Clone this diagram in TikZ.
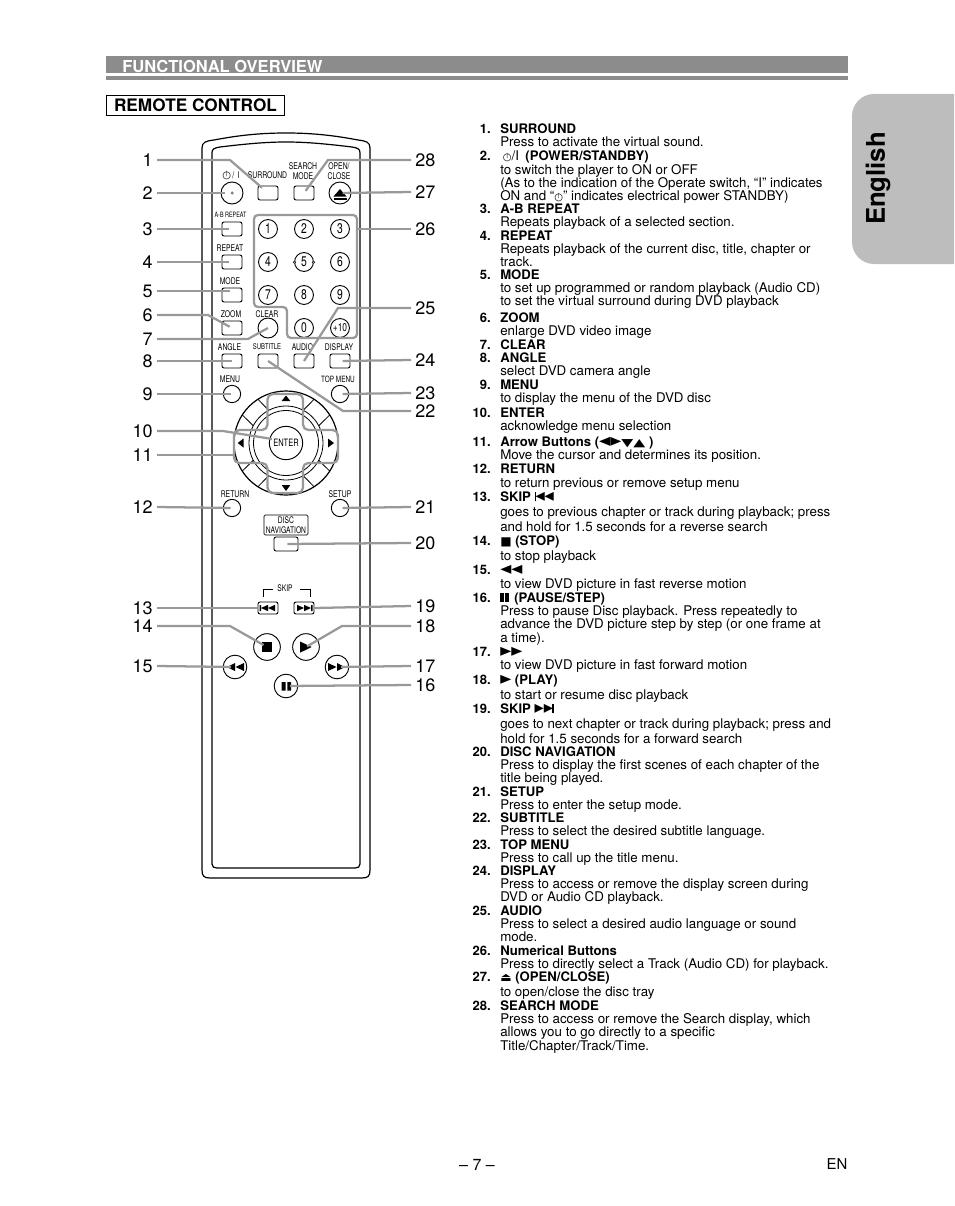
\documentclass[tikz,border=0pt]{standalone}
\usepackage{fontspec}
\usepackage{graphicx}
\setmainfont{TeX Gyre Heros}
\newfontfamily\symfont{DejaVu Sans}
\newfontfamily\narrowfont[FakeStretch=0.74]{TeX Gyre Heros}
\newcommand{\pwr}{{\symfont\fontsize{7.5}{7.5}\selectfont\smash{\makebox[6.5pt]{○}\llap{\makebox[6.5pt]{\raisebox{2.2pt}{\fontsize{4}{4}\selectfont|}}}}}}
\newcommand{\sym}[1]{\rule{0pt}{7pt}\smash{\scalebox{1.2}[1.5]{\symfont\fontsize{9}{9}\selectfont #1}}}
\newcommand{\symp}[1]{\smash{{\symfont\fontsize{9}{9}\selectfont #1}}}
\newcommand{\hd}[1]{\rule{0pt}{7pt}\smash{\fontsize{9.85}{10}\selectfont\bfseries #1}}
\tikzset{
    rectkey/.style = {draw, rounded corners = 1.5pt, minimum width = 15pt, minimum height = 10.5pt, inner sep = 0pt, line width = 0.7pt},
    roundkey/.style = {draw, circle, minimum size = #1, inner sep = 0pt, line width = 0.7pt},
    numkey/.style = {roundkey = 14.2pt, font = \narrowfont\fontsize{10.5}{10.5}\selectfont},
    keylabel/.style = {inner sep = 0pt, align = center, font = \narrowfont\fontsize{6.9}{7.4}\selectfont},
    callleft/.style = {anchor = east, inner sep = 3pt, font = \fontsize{13.5}{13.5}\selectfont},
    callright/.style = {anchor = west, inner sep = 3pt, font = \fontsize{13.5}{13.5}\selectfont},
    leader/.style = {draw = black!40, line width = 1.7pt},
    itemno/.style = {anchor = north east, inner sep = 0pt, text height = 7pt, text depth = 0pt, font = \fontsize{9.75}{10}\selectfont\bfseries},
    itemtext/.style = {anchor = north west, inner sep = 0pt, align = left, font = \fontsize{10}{10}\selectfont}
}
\begin{document}
\begin{tikzpicture}[x = 0.75pt, y = -0.75pt]
\useasboundingbox (0,0) rectangle (954,1206);
% page furniture
\fill[black!45] (106,56) rectangle (848,73.5);
\fill[black!45] (106,75.7) rectangle (848,80);
\node[anchor = west, inner sep = 0pt, text = white, font = \fontsize{12.4}{12.4}\selectfont\bfseries] (heading) at (122,66) {FUNCTIONAL OVERVIEW};
\node[draw, line width = 0.7pt, minimum width = 134pt, minimum height = 15pt, inner sep = 0pt, font = \fontsize{12.9}{12.9}\selectfont\bfseries] (remotetitle) at (195.5,105) {REMOTE CONTROL};
\fill[black!26] (954,94) -- (874,94) arc[start angle = -90, end angle = -180, radius = 22] -- (852,242) arc[start angle = 180, end angle = 90, radius = 22] -- (954,264) -- cycle;
\node[rotate = 90, inner sep = 0pt, font = \fontsize{19.3}{19.3}\selectfont\bfseries] (tabtext) at (878,178.5) {English};
\node[inner sep = 0pt, font = \fontsize{12}{12}\selectfont] (pageno) at (477,1165) {-- 7 --};
\node[inner sep = 0pt, font = \fontsize{11.2}{11.2}\selectfont] (lang) at (837,1164) {EN};
% remote body
\draw[line width = 0.9pt] (202,148) .. controls (202,142) and (206,141) .. (214,140) .. controls (240,135) and (262,133) .. (286,133) .. controls (310,133) and (332,135) .. (358,140) .. controls (366,141) and (370,142) .. (370,148) -- (370,870) .. controls (370,876) and (368,878) .. (362,878) -- (210,878) .. controls (204,878) and (202,876) .. (202,870) -- cycle;
\draw[line width = 0.9pt] (212,153) .. controls (212,149) and (214,148) .. (220,147) .. controls (245,144) and (265,142) .. (286,142) .. controls (307,142) and (327,144) .. (352,147) .. controls (358,148) and (360,149) .. (360,153) -- (360,864) .. controls (360,867) and (358,868) .. (355,868) -- (217,868) .. controls (214,868) and (212,867) .. (212,864) -- cycle;
% keys, top rows
\node[roundkey = 16.5pt] (power) at (232,193) {};
\node[rectkey] (surround) at (268,193) {};
\node[rectkey] (searchmode) at (304,193) {};
\node[roundkey = 16.5pt] (openclose) at (340,193) {};
\node[rectkey] (abrepeat) at (232,229) {};
\node[rectkey] (repeatkey) at (232,262) {};
\node[rectkey] (modekey) at (232,295) {};
\node[rectkey] (zoomkey) at (232,328) {};
\node[roundkey = 15pt] (clearkey) at (268,328) {};
\node[rectkey] (anglekey) at (232,361) {};
\node[rectkey] (subtitlekey) at (268,361) {};
\node[rectkey] (audiokey) at (304,361) {};
\node[rectkey] (displaykey) at (340,361) {};
\node[roundkey = 13pt] (menukey) at (232,394) {};
\node[roundkey = 13pt] (topmenukey) at (340,394) {};
% numeric keys
\node[numkey] (k1) at (268,229) {1};
\node[numkey] (k2) at (304,229) {2};
\node[numkey] (k3) at (340,229) {3};
\node[numkey] (k4) at (268,262) {4};
\node[numkey] (k5) at (304,262) {5};
\node[numkey] (k6) at (340,262) {6};
\node[numkey] (k7) at (268,295) {7};
\node[numkey] (k8) at (304,295) {8};
\node[numkey] (k9) at (340,295) {9};
\node[numkey] (k0) at (304,328) {0};
\node[roundkey = 14.2pt, font = \narrowfont\fontsize{8.5}{8.5}\selectfont] (k10) at (340,328) {+10};
\fill[white] (294.5,262.3) circle (1.6) (313.5,262.3) circle (1.6);
\draw[line width = 0.4pt] (294.5,262.3) circle (1.2) (313.5,262.3) circle (1.2);
% arrow pad
\draw[line width = 0.9pt] (286,443) circle (52);
\draw[line width = 0.6pt] (286,443) circle (37);
\draw[line width = 0.6pt] (286,443) circle (32.5);
\node[roundkey = 25pt, font = \narrowfont\fontsize{7.6}{7.6}\selectfont] (enterkey) at (286,443) {ENTER};
\draw[line width = 0.6pt] (268.8,410.3) -- (257.9,399.3) (253.3,425.8) -- (242.3,414.9);
\draw[line width = 0.6pt] (303.2,410.3) -- (314.1,399.3) (318.7,425.8) -- (329.7,414.9);
\draw[line width = 0.6pt] (268.8,475.7) -- (257.9,486.7) (253.3,460.2) -- (242.3,471.1);
\draw[line width = 0.6pt] (303.2,475.7) -- (314.1,486.7) (318.7,460.2) -- (329.7,471.1);
\fill (281.7,401) -- (290.3,401) -- (286,395.5) -- cycle;
\fill (281.7,485) -- (290.3,485) -- (286,491) -- cycle;
\fill (243.5,438.5) -- (243.5,447.5) -- (237.7,443) -- cycle;
\fill (328,438.5) -- (328,447.5) -- (334,443) -- cycle;
% lower keys
\node[roundkey = 13pt] (returnkey) at (232,508) {};
\node[roundkey = 13pt] (setupkey) at (340,508) {};
\node[draw, rounded corners = 1pt, line width = 0.6pt, minimum width = 33pt, minimum height = 15pt, inner sep = 0pt, align = center, font = \narrowfont\fontsize{6.8}{7.4}\selectfont] (discbox) at (286,525) {DISC\\NAVIGATION};
\node[rectkey, minimum width = 18pt] (disckey) at (286,544) {};
\node[keylabel, font = \narrowfont\fontsize{6.8}{6.8}\selectfont] (skiplabel) at (285,588.5) {SKIP};
\draw[line width = 0.7pt] (263,597) -- (263,589) -- (273,589);
\draw[line width = 0.7pt] (300,589) -- (310,589) -- (310,597);
\node[rectkey, minimum height = 9pt] (skipback) at (268,608) {};
\node[rectkey, minimum height = 9pt] (skipnext) at (304,608) {};
\fill (259.5,605) rectangle (261,611) (261,608) -- (268,604.8) -- (268,611.2) -- cycle (268,608) -- (275,604.8) -- (275,611.2) -- cycle;
\fill (312.5,605) rectangle (311,611) (311,608) -- (304,604.8) -- (304,611.2) -- cycle (304,608) -- (297,604.8) -- (297,611.2) -- cycle;
\node[roundkey = 20pt] (stopkey) at (267,647) {};
\node[roundkey = 20pt] (playkey) at (306,647) {};
\node[roundkey = 17.7pt] (rewkey) at (235,667) {};
\node[roundkey = 17.7pt] (ffkey) at (337,667) {};
\node[roundkey = 17.7pt] (pausekey) at (286,686) {};
\fill (261.7,642) rectangle (271.7,652);
\fill (300,641.5) -- (300,652.7) -- (311.7,647) -- cycle;
\fill (235,663) -- (235,671) -- (227,667) -- cycle (244,663) -- (244,671) -- (235.5,667) -- cycle;
\fill (337,663) -- (337,671) -- (345,667) -- cycle (328,663) -- (328,671) -- (336.5,667) -- cycle;
\fill (281.7,682) rectangle (285.5,690.7) (287.4,682) rectangle (291.2,690.7);
\fill (232,193) circle (1.5);
\fill[white] (232,193) circle (0.9);
\fill (340,189) -- (333.5,196.5) -- (346.5,196.5) -- cycle;
\fill (333.5,198) rectangle (346.5,200);
% key labels
\node[keylabel] (lpower) at (231,175) {\rule{0pt}{5pt}\pwr\kern1pt/\kern2.5pt I};
\node[keylabel] (lsurround) at (267.5,175) {SURROUND};
\node[keylabel] (lsearch) at (303,171) {SEARCH\\MODE};
\node[keylabel] (lopen) at (339,171) {OPEN/\\CLOSE};
\node[keylabel, font = \narrowfont\fontsize{5.5}{5.5}\selectfont] (labrepeat) at (230.5,214.5) {A-B REPEAT};
\node[keylabel] (lrepeat) at (230,248) {REPEAT};
\node[keylabel] (lmode) at (230,281) {MODE};
\node[keylabel] (lzoom) at (231,314) {ZOOM};
\node[keylabel] (lclear) at (267,314) {CLEAR};
\node[keylabel] (langle) at (229.5,347) {ANGLE};
\node[keylabel, font = \narrowfont\fontsize{6}{6}\selectfont] (lsubtitle) at (267,347) {SUBTITLE};
\node[keylabel] (laudio) at (302.5,347) {AUDIO};
\node[keylabel] (ldisplay) at (339,347) {DISPLAY};
\node[keylabel] (lmenu) at (230,379) {MENU};
\node[keylabel, font = \narrowfont\fontsize{6.5}{6.5}\selectfont] (ltopmenu) at (338,379) {TOP MENU};
\node[keylabel] (lreturn) at (235,494) {RETURN};
\node[keylabel] (lsetup) at (340,494) {SETUP};
% callout numbers
\node[callleft] (n1) at (157,160) {1};
\node[callleft] (n2) at (157,193) {2};
\node[callleft] (n3) at (157,229) {3};
\node[callleft] (n4) at (157,262) {4};
\node[callleft] (n5) at (157,291) {5};
\node[callleft] (n6) at (157,315) {6};
\node[callleft] (n7) at (157,339) {7};
\node[callleft] (n8) at (157,361) {8};
\node[callleft] (n9) at (157,394) {9};
\node[callleft] (n10) at (157,431) {10};
\node[callleft] (n11) at (157,455) {11};
\node[callleft] (n12) at (157,507) {12};
\node[callleft] (n13) at (157,608) {13};
\node[callleft] (n14) at (157,626) {14};
\node[callleft] (n15) at (157,666) {15};
\node[callright] (n28) at (411,160) {28};
\node[callright] (n27) at (411,192) {27};
\node[callright] (n26) at (411,229) {26};
\node[callright] (n25) at (411,308) {25};
\node[callright] (n24) at (411,360) {24};
\node[callright] (n23) at (411,393) {23};
\node[callright] (n22) at (411,411) {22};
\node[callright] (n21) at (411,507) {21};
\node[callright] (n20) at (411,543) {20};
\node[callright] (n19) at (411,606) {19};
\node[callright] (n18) at (411,626) {18};
\node[callright] (n17) at (411,666) {17};
\node[callright] (n16) at (411,685) {16};
% leader ends that do not sit on a key centre
\coordinate (e5) at (230,291);
\coordinate (e11) at (234,455);
\coordinate (e26) at (357,229);
\coordinate (e10) at (272,439);
% keypad and arrow pad outlines
\draw[leader, rounded corners = 3pt] (254,215) -- (357,215) -- (357,338) -- (287,338) -- (287,307) -- (254,307) -- cycle;
\draw[leader, rounded corners = 4pt] (267.5,394) -- (303,394) -- (303,430) -- (338,430) -- (338,463) -- (303,463) -- (303,493) -- (267.5,493) -- (267.5,463) -- (234,463) -- (234,430) -- (267.5,430) -- cycle;
% leaders
\draw[leader, shorten > = 6pt] (n1.east) -- (230,160) -- (surround.center);
\draw[leader, shorten > = 5pt] (n2.east) -- (power.center);
\draw[leader, shorten > = 2pt] (n3.east) -- (abrepeat.center);
\draw[leader, shorten > = 2pt] (n4.east) -- (repeatkey.center);
\draw[leader] (n5.east) -- (e5);
\draw[leader, shorten > = 2pt] (n6.east) -- (208,315) -- (zoomkey.center);
\draw[leader] (n7.east) -- (248,339) -- (clearkey.center);
\draw[leader] (n8.east) -- (anglekey.center);
\draw[leader, shorten > = 1pt] (n9.east) -- (menukey.center);
\draw[leader] (n10.east) -- (223,431) -- (e10);
\draw[leader] (n11.east) -- (e11);
\draw[leader, shorten > = 1pt] (n12.east) -- (returnkey.center);
\draw[leader] (n13.east) -- (skipback.west);
\draw[leader, shorten > = 3pt] (n14.east) -- (230,626) -- (stopkey.center);
\draw[leader, shorten > = 3pt] (n15.east) -- (rewkey.center);
\draw[leader, shorten > = 3pt] (n16.west) -- (pausekey.center);
\draw[leader, shorten > = 3pt] (n17.west) -- (ffkey.center);
\draw[leader, shorten > = 1pt] (n18.west) -- (342,626) -- (playkey.center);
\draw[leader] (n19.west) -- (skipnext.east);
\draw[leader, shorten > = 1pt] (n20.west) -- (disckey.center);
\draw[leader, shorten > = 2pt] (n21.west) -- (setupkey.center);
\draw[leader] (n22.west) -- (343,411) -- (subtitlekey.center);
\draw[leader, shorten > = 2pt] (n23.west) -- (topmenukey.center);
\draw[leader, shorten > = 2pt] (n24.west) -- (displaykey.center);
\draw[leader] (n25.west) -- (338,308) -- (audiokey.center);
\draw[leader] (n26.west) -- (e26);
\draw[leader, shorten > = 2pt] (n27.west) -- (openclose.center);
\draw[leader, shorten > = 2pt] (n28.west) -- (328,160) -- (searchmode.center);
% item list
\node[itemno] (i1) at (491,123.7) {1.};
\node[itemtext] (t1) at (500,123.7) {\hd{SURROUND}\\Press to activate the virtual sound.};
\node[itemno] (i2) at (491,150.7) {2.};
\node[itemtext] (t2) at (500,150.7) {\rule{0pt}{7pt}\kern2pt\pwr/I\kern2pt{} \hd{(POWER/STANDBY)}\\to switch the player to ON or OFF\\(As to the indication of the Operate switch, “I” indicates\\ON and “\pwr” indicates electrical power STANDBY)};
\node[itemno] (i3) at (491,203.7) {3.};
\node[itemtext] (t3) at (500,203.7) {\hd{A-B REPEAT}\\Repeats playback of a selected section.};
\node[itemno] (i4) at (491,230.7) {4.};
\node[itemtext] (t4) at (500,230.7) {\hd{REPEAT}\\Repeats playback of the current disc, title, chapter or\\track.};
\node[itemno] (i5) at (491,269.7) {5.};
\node[itemtext] (t5) at (500,269.7) {\hd{MODE}\\to set up programmed or random playback (Audio CD)\\to set the virtual surround during DVD playback};
\node[itemno] (i6) at (491,312.7) {6.};
\node[itemtext] (t6) at (500,312.7) {\hd{ZOOM}\\enlarge DVD video image};
\node[itemno] (i7) at (491,339.7) {7.};
\node[itemtext] (t7) at (500,339.7) {\hd{CLEAR}};
\node[itemno] (i8) at (491,352.7) {8.};
\node[itemtext] (t8) at (500,352.7) {\hd{ANGLE}\\select DVD camera angle};
\node[itemno] (i9) at (491,379.7) {9.};
\node[itemtext] (t9) at (500,379.7) {\hd{MENU}\\to display the menu of the DVD disc};
\node[itemno] (i10) at (491,407.7) {10.};
\node[itemtext] (t10) at (500,407.7) {\hd{ENTER}\\acknowledge menu selection};
\node[itemno] (i11) at (491,436.7) {11.};
\node[itemtext] (t11) at (500,436.7) {\hd{Arrow Buttons (\sym{◄►}\scalebox{1.3}[0.9]{\symp{▼▲}} )}\\Move the cursor and determines its position.};
\node[itemno] (i12) at (491,463.7) {12.};
\node[itemtext] (t12) at (500,463.7) {\hd{RETURN}\\[0.5pt]to return previous or remove setup menu};
\node[itemno] (i13) at (491,491.7) {13.};
\node[itemtext] (t13) at (500,491.7) {\hd{SKIP \rule{1.2pt}{7pt}\kern-0.5pt\scalebox{1}[1.5]{\symp{◄◄}}}\\[1.25pt]goes to previous chapter or track during playback; press\\[1.25pt]and hold for 1.5 seconds for a reverse search};
\node[itemno] (i14) at (491,535.7) {14.};
\node[itemtext] (t14) at (500,535.7) {\hd{\symp{■} (STOP)}\\[1.25pt]to stop playback};
\node[itemno] (i15) at (491,564.7) {15.};
\node[itemtext] (t15) at (500,564.7) {\sym{◄◄}\\[0.5pt]to view DVD picture in fast reverse motion};
\node[itemno] (i16) at (491,592.7) {16.};
\node[itemtext] (t16) at (500,592.7) {\hd{\rule{3pt}{7pt}\kern0.8pt\rule{3pt}{7pt}\kern1pt{} (PAUSE/STEP)}\\Press to pause Disc playback. Press repeatedly to\\advance the DVD picture step by step (or one frame at\\a time).};
\node[itemno] (i17) at (491,646.7) {17.};
\node[itemtext] (t17) at (500,646.7) {\sym{►►}\\to view DVD picture in fast forward motion};
\node[itemno] (i18) at (491,674.7) {18.};
\node[itemtext] (t18) at (500,674.7) {\hd{\sym{►} (PLAY)}\\[1.25pt]to start or resume disc playback};
\node[itemno] (i19) at (491,703.7) {19.};
\node[itemtext] (t19) at (500,703.7) {\hd{SKIP \scalebox{1}[1.5]{\symp{►►}}\kern-0.5pt\rule{1.2pt}{7pt}}\\[1.25pt]goes to next chapter or track during playback; press and\\[1.25pt]hold for 1.5 seconds for a forward search};
\node[itemno] (i20) at (491,746.7) {20.};
\node[itemtext] (t20) at (500,746.7) {\hd{DISC NAVIGATION}\\Press to display the first scenes of each chapter of the\\title being played.};
\node[itemno] (i21) at (491,786.7) {21.};
\node[itemtext] (t21) at (500,786.7) {\hd{SETUP}\\Press to enter the setup mode.};
\node[itemno] (i22) at (491,812.7) {22.};
\node[itemtext] (t22) at (500,812.7) {\hd{SUBTITLE}\\Press to select the desired subtitle language.};
\node[itemno] (i23) at (491,839.7) {23.};
\node[itemtext] (t23) at (500,839.7) {\hd{TOP MENU}\\Press to call up the title menu.};
\node[itemno] (i24) at (491,865.7) {24.};
\node[itemtext] (t24) at (500,865.7) {\hd{DISPLAY}\\Press to access or remove the display screen during\\DVD or Audio CD playback.};
\node[itemno] (i25) at (491,905.7) {25.};
\node[itemtext] (t25) at (500,905.7) {\hd{AUDIO}\\Press to select a desired audio language or sound\\mode.};
\node[itemno] (i26) at (491,945.7) {26.};
\node[itemtext] (t26) at (500,945.7) {\hd{Numerical Buttons}\\Press to directly select a Track (Audio CD) for playback.};
\node[itemno] (i27) at (491,971.7) {27.};
\node[itemtext] (t27) at (500,971.7) {\hd{\symp{⏏} (OPEN/CLOSE)}\\[1.25pt]to open/close the disc tray};
\node[itemno] (i28) at (491,1000.7) {28.};
\node[itemtext] (t28) at (500,1000.7) {\hd{SEARCH MODE}\\Press to access or remove the Search display, which\\allows you to go directly to a specific\\Title/Chapter/Track/Time.};
\end{tikzpicture}
\end{document}
